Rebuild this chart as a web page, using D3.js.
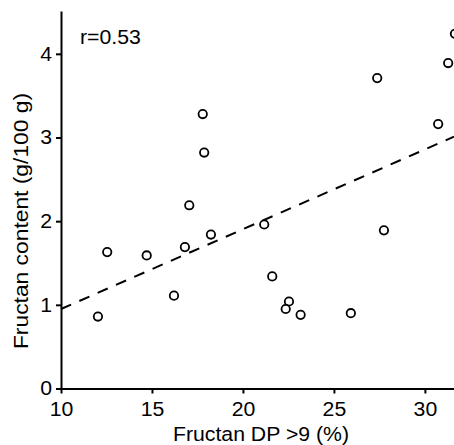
<!DOCTYPE html>
<html>
<head>
<meta charset="utf-8">
<script src="https://cdn.jsdelivr.net/npm/d3@7"></script>
<style>
  body { margin: 0; background: #fff; }
  text { font-family: "Liberation Sans", Arial, sans-serif; fill: #000; }
  .axis path, .axis line { stroke: #000; stroke-width: 2px; }
  .axis text { font-size: 19.5px; }
</style>
</head>
<body>
<div id="chart"></div>
<script>
// Fructan DP >9 (%) vs fructan content (g/100 g)
var dpValues = [12.03, 12.54, 14.71, 16.21, 16.81, 17.05, 17.79, 17.87, 18.24, 21.17,
                21.61, 22.53, 22.35, 23.17, 25.93, 27.38, 27.75, 30.73, 31.28, 31.65];
var contentValues = [0.86, 1.63, 1.59, 1.11, 1.69, 2.19, 3.28, 2.82, 1.84, 1.96,
                     1.34, 1.04, 0.95, 0.88, 0.90, 3.71, 1.89, 3.16, 3.89, 4.24];
var trendX = [10, 31.6];
var trendY = [0.95, 3.01];
var xTicks = [10, 15, 20, 25, 30];
var yTicks = [0, 1, 2, 3, 4];
var rLabel = "r=0.53";

var width = 454, height = 445;
var margin = { top: 12, right: 0, bottom: 56.5, left: 61 };
var stretch = 1.09;

var svg = d3.select("#chart").append("svg")
  .attr("width", width)
  .attr("height", height);

var x = d3.scaleLinear()
  .domain([10, 31.6])
  .range([margin.left, width - margin.right]);

var y = d3.scaleLinear()
  .domain([0, 4.5])
  .range([height - margin.bottom, margin.top]);

var xAxis = d3.axisBottom(x)
  .tickValues(xTicks)
  .tickFormat(d3.format("d"))
  .tickSize(5)
  .tickSizeOuter(0)
  .tickPadding(9);

var yAxis = d3.axisLeft(y)
  .tickValues(yTicks)
  .tickFormat(d3.format("d"))
  .tickSize(5)
  .tickSizeOuter(0)
  .tickPadding(3.2);

svg.append("g")
  .attr("class", "x-axis axis")
  .attr("transform", "translate(0," + y(0) + ")")
  .call(xAxis);

svg.append("g")
  .attr("class", "y-axis axis")
  .attr("transform", "translate(" + x(10) + ",0)")
  .call(yAxis);

svg.selectAll(".axis text").attr("transform", "scale(" + stretch + ",1)");
svg.selectAll(".axis .domain").attr("stroke-linecap", "square");

// trend line
var trend = trendX.map(function (d, i) { return [d, trendY[i]]; });
svg.append("path")
  .datum(trend)
  .attr("fill", "none")
  .attr("stroke", "#000")
  .attr("stroke-width", 2)
  .attr("stroke-dasharray", "11,9")
  .attr("d", d3.line()
    .x(function (d) { return x(d[0]); })
    .y(function (d) { return y(d[1]); }));

// points
svg.selectAll(".dot")
  .data(dpValues)
  .enter().append("circle")
    .attr("class", "dot")
    .attr("cx", function (d) { return x(d); })
    .attr("cy", function (d, i) { return y(contentValues[i]); })
    .attr("r", 4.2)
    .attr("fill", "#fff")
    .attr("stroke", "#000")
    .attr("stroke-width", 1.8);

// labels
svg.append("text")
  .attr("transform", "translate(261,441) scale(" + stretch + ",1)")
  .attr("text-anchor", "middle")
  .style("font-size", "19.5px")
  .text("Fructan DP >9 (%)");

svg.append("text")
  .attr("transform", "translate(28,221) rotate(-90) scale(1.17,1)")
  .attr("text-anchor", "middle")
  .style("font-size", "19.5px")
  .text("Fructan content (g/100 g)");

svg.append("text")
  .attr("transform", "translate(80,44) scale(" + stretch + ",1)")
  .style("font-size", "19.5px")
  .text(rLabel);
</script>
</body>
</html>
